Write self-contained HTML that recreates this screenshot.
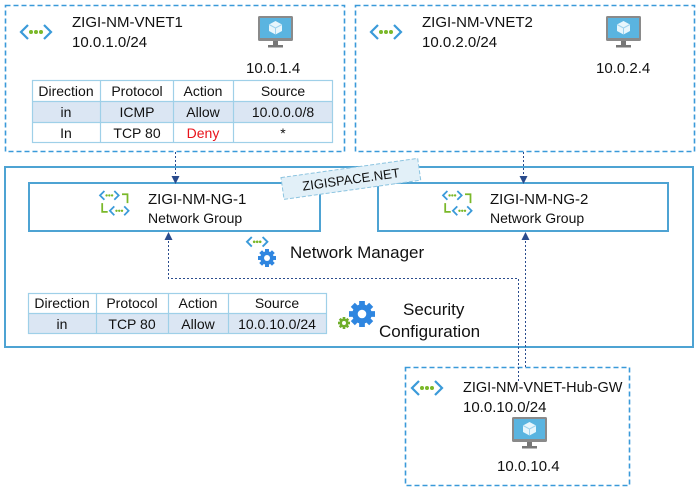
<!DOCTYPE html>
<html><head><meta charset="utf-8"><style>
body{margin:0;background:#fff}
svg text{font-family:"Liberation Sans","DejaVu Sans",sans-serif;fill:#111}
</style></head><body>
<svg width="700" height="491" viewBox="0 0 700 491" xmlns="http://www.w3.org/2000/svg">
<defs>
<g id="vnet">
<path d="M7,0 L0,7 L7,14" fill="none" stroke="#3a9ad9" stroke-width="2.2"/>
<path d="M23,0 L30,7 L23,14" fill="none" stroke="#3a9ad9" stroke-width="2.2"/>
<circle cx="10" cy="7" r="2" fill="#7ab829"/><circle cx="15" cy="7" r="2" fill="#7ab829"/><circle cx="20" cy="7" r="2" fill="#7ab829"/>
</g>
<g id="svnet">
<path d="M4,0 L0,4 L4,8" fill="none" stroke="#3a9ad9" stroke-width="1.6"/>
<path d="M13,0 L17,4 L13,8" fill="none" stroke="#3a9ad9" stroke-width="1.6"/>
<circle cx="6" cy="4" r="1.1" fill="#7ab829"/><circle cx="8.5" cy="4" r="1.1" fill="#7ab829"/><circle cx="11" cy="4" r="1.1" fill="#7ab829"/>
</g>
<g id="ng">
<use href="#svnet" x="0" y="0"/>
<use href="#svnet" x="9" y="14"/>
<path d="M20,3 H25 V11" fill="none" stroke="#7ab829" stroke-width="1.6"/>
<path d="M2,11 V19 H7" fill="none" stroke="#7ab829" stroke-width="1.6"/>
</g>
<g id="vm">
<rect x="0" y="0" width="35" height="25" rx="1.5" fill="#8a8a8a"/>
<rect x="2" y="2" width="31" height="20" fill="#5ab4e0"/>
<path d="M17.5,5 L24,8.5 L24,15 L17.5,18.5 L11,15 L11,8.5Z" fill="#e8f6fc"/>
<path d="M11,8.5 L17.5,12 L24,8.5 M17.5,12 V18.5" fill="none" stroke="#9fd3ee" stroke-width="1"/>
<rect x="15" y="25" width="5" height="4" fill="#777"/>
<rect x="10" y="29" width="15" height="2.5" fill="#777"/>
</g>
<g id="gear">
<g fill="currentColor">
<rect x="-2.2" y="-10" width="4.4" height="20"/>
<rect x="-2.2" y="-10" width="4.4" height="20" transform="rotate(45)"/>
<rect x="-2.2" y="-10" width="4.4" height="20" transform="rotate(90)"/>
<rect x="-2.2" y="-10" width="4.4" height="20" transform="rotate(135)"/>
<circle r="7.5"/>
</g>
<circle r="3.3" fill="#fff"/>
</g>
<marker id="ar" markerWidth="8" markerHeight="8" refX="4" refY="4" orient="auto"><path d="M0,0 L8,4 L0,8Z" fill="#2a4b8d"/></marker>
</defs>

<!-- VNET1 -->
<rect x="5.5" y="5.5" width="339" height="146" fill="none" stroke="#3a9ad9" stroke-width="1.6" stroke-dasharray="5,3"/>
<use href="#vnet" x="21" y="25"/>
<text x="72" y="27" font-size="15">ZIGI-NM-VNET1</text>
<text x="72" y="47" font-size="15">10.0.1.0/24</text>
<use href="#vm" x="258" y="16"/>
<text x="246" y="73" font-size="15">10.0.1.4</text>
<g font-size="14" text-anchor="middle">
<rect x="32" y="101" width="301" height="21" fill="#dbe6f3"/>
<g fill="none" stroke="#9fd0e8" stroke-width="1.2">
<rect x="32.5" y="80.5" width="300" height="62"/>
<line x1="32" y1="101.5" x2="333" y2="101.5"/><line x1="32" y1="122.5" x2="333" y2="122.5"/>
<line x1="100.5" y1="80" x2="100.5" y2="143"/><line x1="173.5" y1="80" x2="173.5" y2="143"/><line x1="233.5" y1="80" x2="233.5" y2="143"/>
</g>
<text x="66" y="96">Direction</text><text x="137" y="96">Protocol</text><text x="203" y="96">Action</text><text x="283" y="96">Source</text>
<text x="66" y="117">in</text><text x="137" y="117">ICMP</text><text x="203" y="117">Allow</text><text x="283" y="117">10.0.0.0/8</text>
<text x="66" y="138">In</text><text x="137" y="138">TCP 80</text><text x="203" y="138" style="fill:#e8141c">Deny</text><text x="283" y="138">*</text>
</g>

<!-- VNET2 -->
<rect x="355.5" y="5.5" width="339" height="146" fill="none" stroke="#3a9ad9" stroke-width="1.6" stroke-dasharray="5,3"/>
<use href="#vnet" x="371" y="25"/>
<text x="422" y="27" font-size="15">ZIGI-NM-VNET2</text>
<text x="422" y="47" font-size="15">10.0.2.0/24</text>
<use href="#vm" x="606" y="16"/>
<text x="596" y="73" font-size="15">10.0.2.4</text>

<!-- Manager -->
<rect x="5" y="167" width="688" height="180" fill="none" stroke="#4ea3d3" stroke-width="2"/>
<rect x="29" y="183" width="291" height="48" fill="#fff" stroke="#4ea3d3" stroke-width="2"/>
<rect x="378" y="183" width="290" height="48" fill="#fff" stroke="#4ea3d3" stroke-width="2"/>
<use href="#ng" transform="translate(100 191) scale(1.1)"/>
<text x="148" y="204" font-size="15">ZIGI-NM-NG-1</text>
<text x="148" y="223" font-size="14">Network Group</text>
<use href="#ng" transform="translate(443 191) scale(1.1)"/>
<text x="490" y="204" font-size="15">ZIGI-NM-NG-2</text>
<text x="490" y="223" font-size="14">Network Group</text>
<use href="#svnet" transform="translate(247 237) scale(1.2)"/>
<use href="#gear" style="color:#2f86e0" transform="translate(267 258) scale(0.9)"/>
<text x="290" y="258" font-size="17">Network Manager</text>

<g transform="rotate(-8 350 180)">
<rect x="282" y="168" width="138" height="22" fill="#e2f0f8" stroke="#8cc4e0" stroke-dasharray="4,2"/>
<text x="351" y="184" font-size="13" text-anchor="middle">ZIGISPACE.NET</text>
</g>

<g font-size="14" text-anchor="middle">
<rect x="28" y="313" width="299" height="21" fill="#dbe6f3"/>
<g fill="none" stroke="#9fd0e8" stroke-width="1.2">
<rect x="28.5" y="293.5" width="298" height="40"/>
<line x1="28" y1="313.5" x2="327" y2="313.5"/>
<line x1="96.5" y1="293" x2="96.5" y2="334"/><line x1="168.5" y1="293" x2="168.5" y2="334"/><line x1="228.5" y1="293" x2="228.5" y2="334"/>
</g>
<text x="62" y="308">Direction</text><text x="132" y="308">Protocol</text><text x="198" y="308">Action</text><text x="277" y="308">Source</text>
<text x="62" y="329">in</text><text x="132" y="329">TCP 80</text><text x="198" y="329">Allow</text><text x="277" y="329">10.0.10.0/24</text>
</g>
<use href="#gear" style="color:#2f86e0" transform="translate(362 314) scale(1.3)"/>
<use href="#gear" style="color:#6fae2a" transform="translate(344 323) scale(0.6)"/>
<text x="403" y="315" font-size="17">Security</text>
<text x="379" y="337" font-size="17">Configuration</text>

<!-- Hub -->
<rect x="405.5" y="367.5" width="224" height="118" fill="none" stroke="#3a9ad9" stroke-width="1.6" stroke-dasharray="5,3"/>
<use href="#vnet" x="412" y="381"/>
<text x="463" y="392" font-size="14.5">ZIGI-NM-VNET-Hub-GW</text>
<text x="463" y="412" font-size="15">10.0.10.0/24</text>
<use href="#vm" x="512" y="417"/>
<text x="497" y="471" font-size="15">10.0.10.4</text>

<!-- connectors -->
<g fill="none" stroke="#2a4b8d" stroke-width="1" stroke-dasharray="2,2">
<line x1="175.5" y1="152" x2="175.5" y2="180" marker-end="url(#ar)"/>
<line x1="523.5" y1="152" x2="523.5" y2="180" marker-end="url(#ar)"/>
<polyline points="518.5,381 518.5,278.5 168.5,278.5 168.5,236" marker-end="url(#ar)"/>
<line x1="525.5" y1="367" x2="525.5" y2="236" marker-end="url(#ar)"/>
</g>
</svg>
</body></html>
